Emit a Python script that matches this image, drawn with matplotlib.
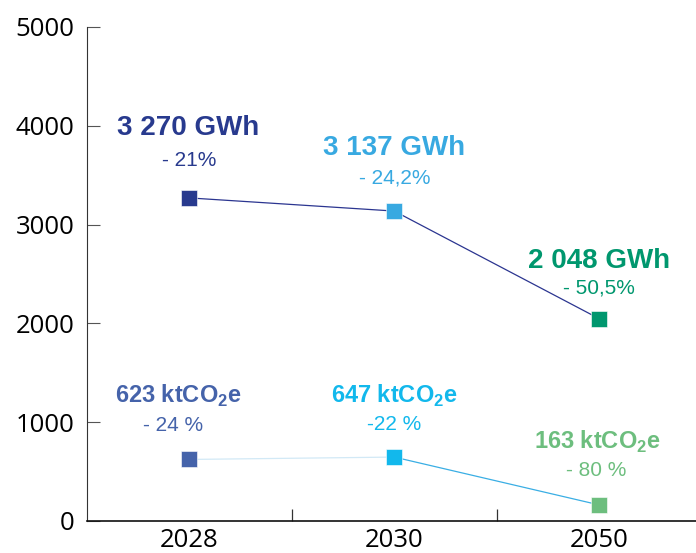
import matplotlib
matplotlib.use("Agg")
import matplotlib.pyplot as plt
from matplotlib.ticker import FixedLocator

plt.rcParams["mathtext.fontset"] = "custom"
plt.rcParams["mathtext.bf"] = "Liberation Sans:bold"
plt.rcParams["mathtext.rm"] = "Liberation Sans"

years = ["2028", "2030", "2050"]
energy_gwh = [3270, 3137, 2048]
energy_labels = ["3 270 GWh", "3 137 GWh", "2 048 GWh"]
energy_pct = ["- 21%", "- 24,2%", "- 50,5%"]
co2_kt = [623, 647, 163]
co2_labels = [r"623 ktCO$_\mathbf{2}$e", r"647 ktCO$_\mathbf{2}$e", r"163 ktCO$_\mathbf{2}$e"]
co2_pct = ["- 24 %", "-22 %", "- 80 %"]
y_ticks = [0, 1000, 2000, 3000, 4000, 5000]

energy_colors = ["#283a8e", "#38a9e1", "#00976e"]
co2_colors = ["#4563aa", "#12b8ec", "#6dbe7e"]
co2_seg_colors = ["#d2e9f6", "#3aaee4"]

fig = plt.figure(figsize=(6.96, 5.53), dpi=100)
ax = fig.add_axes([87 / 696, 32 / 553, 1 - 87 / 696, 494 / 553])
x = list(range(len(years)))

# lines
ax.plot(x, energy_gwh, color="#2b3590", lw=0.9, zorder=2)
for i in range(len(x) - 1):
    ax.plot(x[i:i + 2], co2_kt[i:i + 2], color=co2_seg_colors[i], lw=0.9, zorder=2)

# markers
for i in x:
    ax.plot(x[i], energy_gwh[i], marker="s", ms=11.5, color=energy_colors[i],
            mec="white", mew=0.4, zorder=3)
    ax.plot(x[i], co2_kt[i], marker="s", ms=11.5, color=co2_colors[i],
            mec="white", mew=0.4, zorder=3)

lab_font = ["Liberation Sans", "DejaVu Sans"]
e_off = [(-1, 50), (0, 45.5), (0, 41.5)]
e_poff = [(0, 27), (0, 23.5), (0, 22)]
c_off = [(-8, 46), (0, 44), (-1, 45.5)]
c_poff = [(-12, 24.5), (0, 23.5), (-2, 25)]
for i in x:
    ax.annotate(energy_labels[i], (x[i], energy_gwh[i]), xytext=e_off[i],
                textcoords="offset points", ha="center", va="center",
                fontsize=20, fontweight="bold", color=energy_colors[i], family=lab_font)
    ax.annotate(energy_pct[i], (x[i], energy_gwh[i]), xytext=e_poff[i],
                textcoords="offset points", ha="center", va="center",
                fontsize=15, color=energy_colors[i], family=lab_font)
    ax.annotate(co2_labels[i], (x[i], co2_kt[i]), xytext=c_off[i],
                textcoords="offset points", ha="center", va="center",
                fontsize=17, fontweight="bold", color=co2_colors[i], family=lab_font)
    ax.annotate(co2_pct[i], (x[i], co2_kt[i]), xytext=c_poff[i],
                textcoords="offset points", ha="center", va="center",
                fontsize=15, color=co2_colors[i], family=lab_font)

ax.set_xlim(-0.5, 2.473)
ax.set_ylim(0, 5000)
ax.set_yticks(y_ticks)
ax.set_yticklabels([str(v) for v in y_ticks], fontsize=18.5, family="Open Sans")
ax.set_xticks(x)
ax.set_xticklabels(years, fontsize=18.5, family="Open Sans")
ax.xaxis.set_minor_locator(FixedLocator([0.5, 1.5]))
ax.tick_params(axis="y", direction="in", length=9.5, width=0.8, color="#555555", pad=9)
ax.tick_params(axis="x", which="major", length=0, pad=5)
ax.tick_params(axis="x", which="minor", direction="in", length=9, width=0.9, color="#333333")

for s in ["top", "right"]:
    ax.spines[s].set_visible(False)
ax.spines["left"].set_color("#333333")
ax.spines["left"].set_linewidth(0.8)
ax.spines["bottom"].set_color("#111111")
ax.spines["bottom"].set_linewidth(1.2)

fig.savefig("out.png", dpi=100)
